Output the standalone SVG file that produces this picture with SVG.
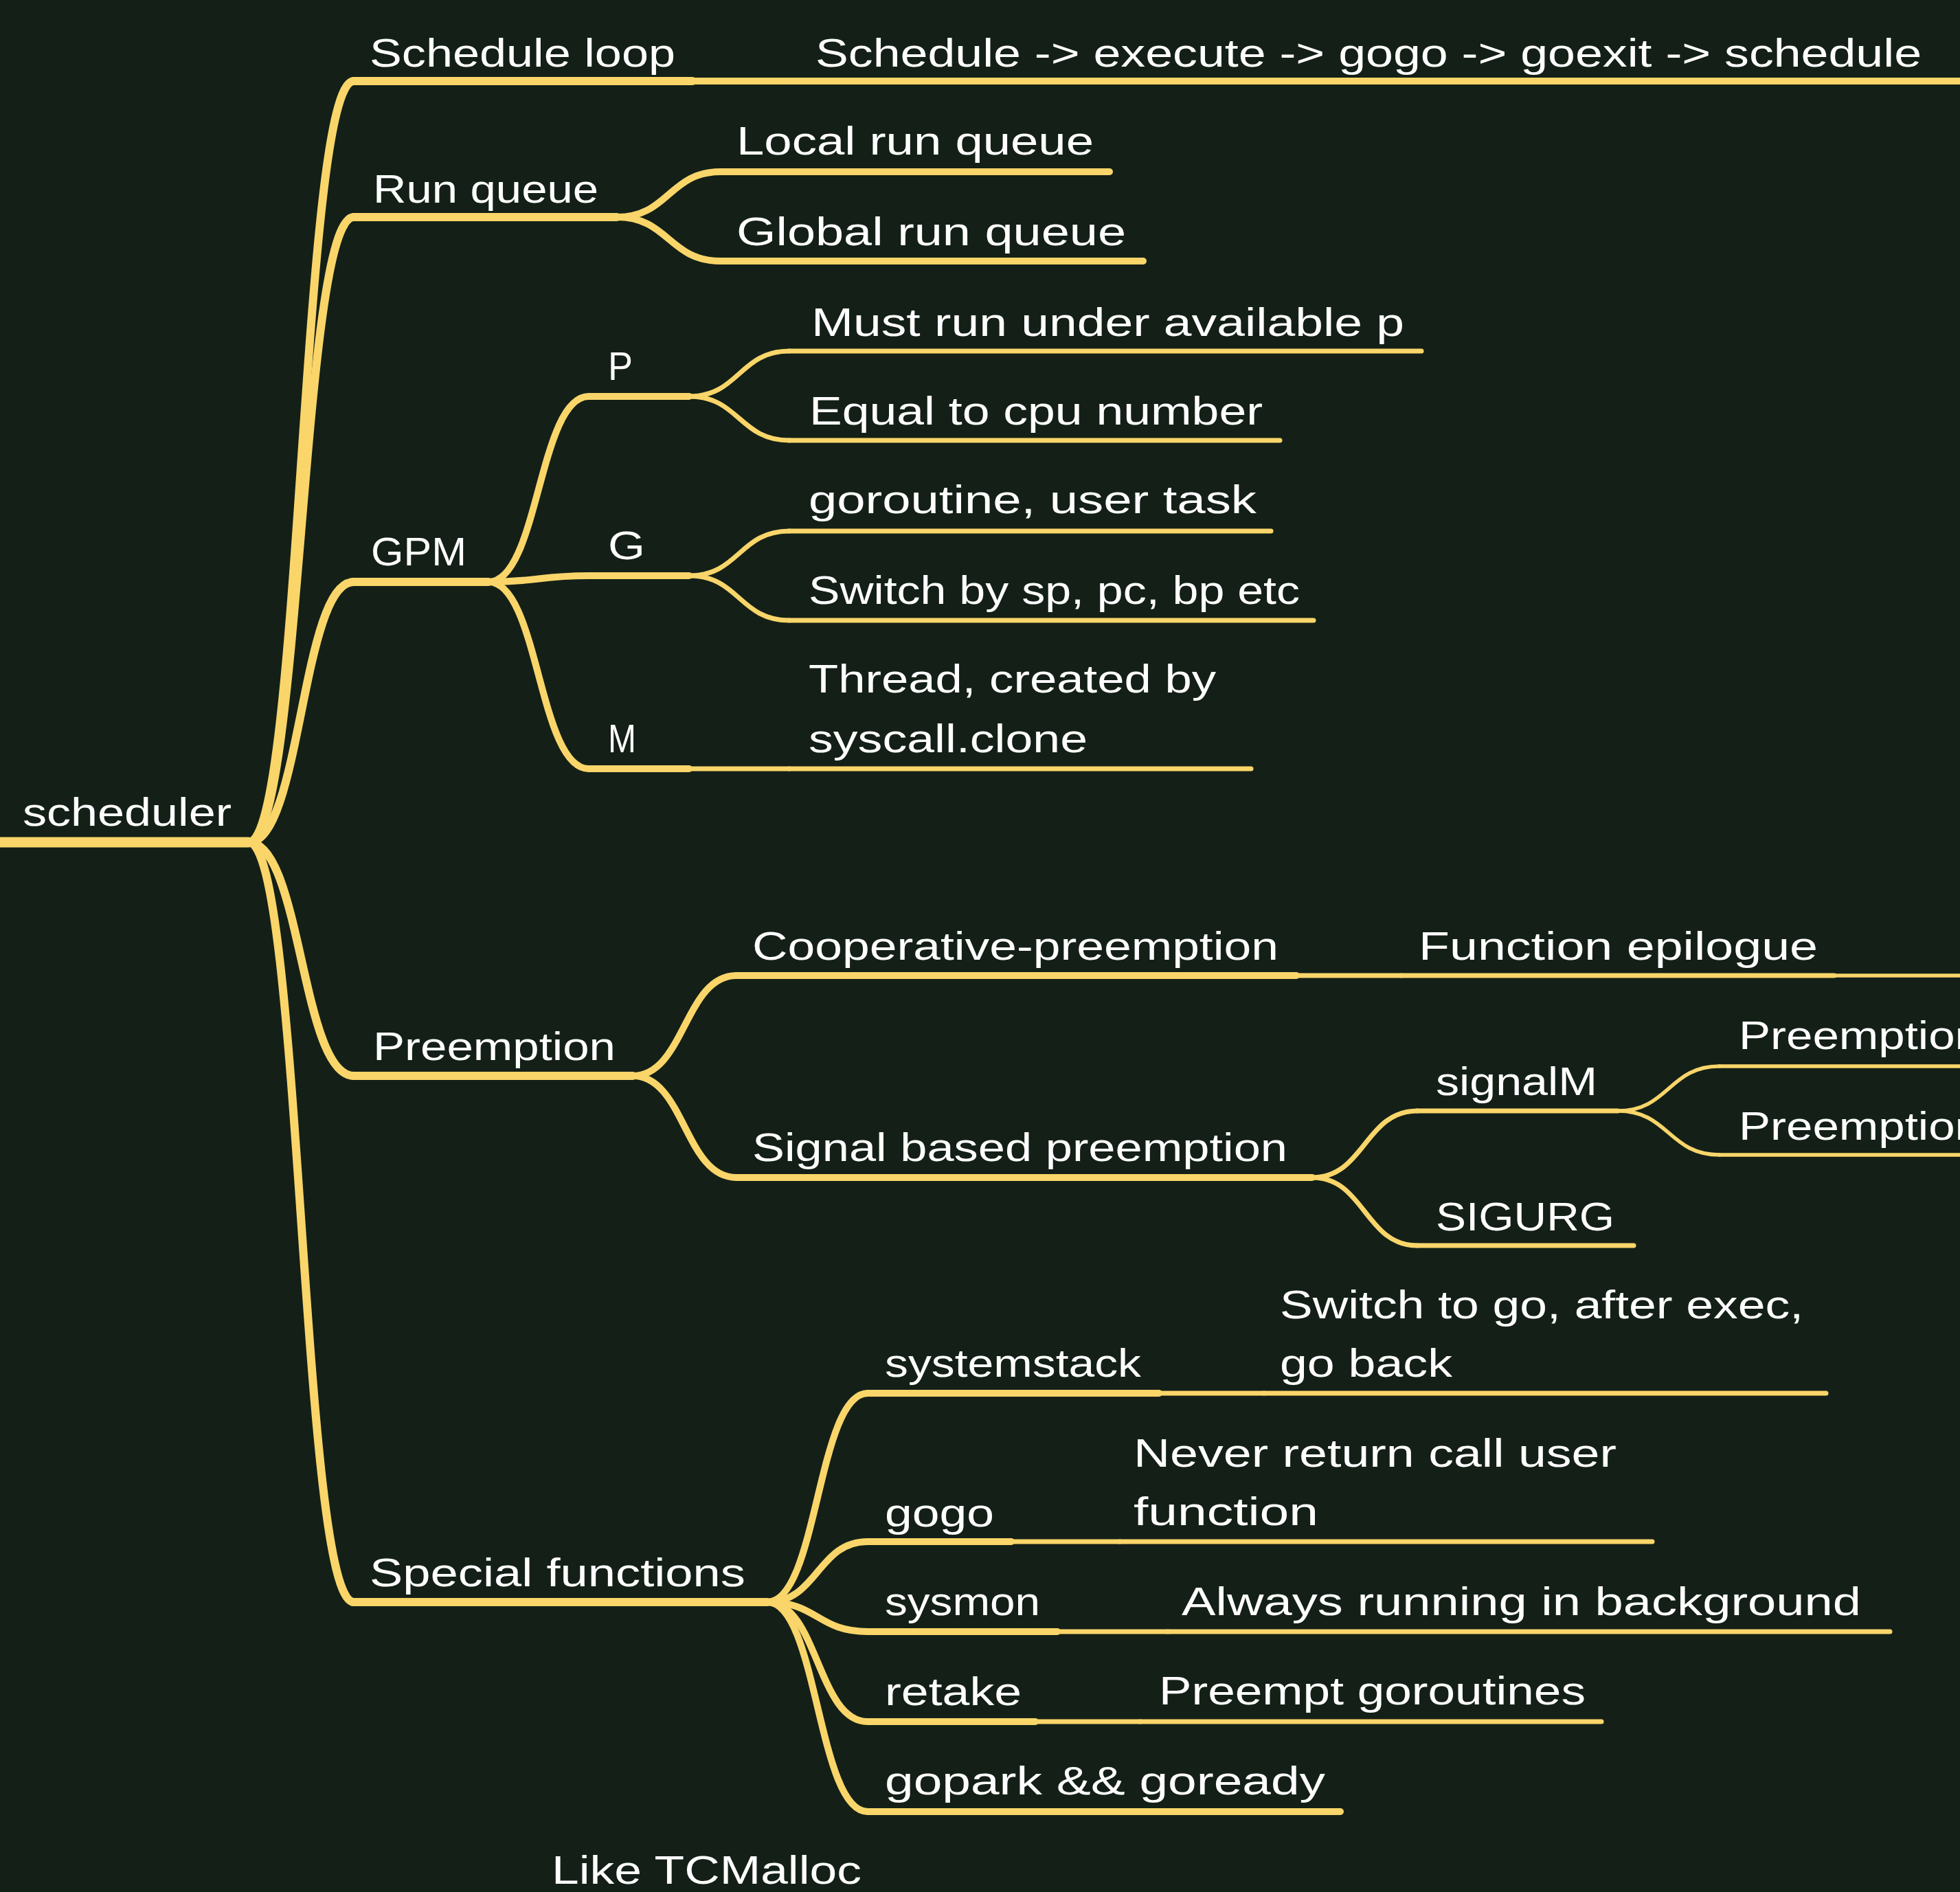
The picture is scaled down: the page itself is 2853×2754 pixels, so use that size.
<svg xmlns="http://www.w3.org/2000/svg" width="2853" height="2754" viewBox="0 0 2853 2754">
<style>
.t{font-family:"Liberation Sans",Arial,sans-serif;font-size:58px;fill:#ffffff}
.ln{fill:none;stroke:#f9d56a;stroke-linecap:round}
.w0{stroke-width:15}.w1{stroke-width:12}.w2{stroke-width:10}.w3{stroke-width:7}.w4{stroke-width:5.5}
</style>
<rect x="0" y="0" width="2853" height="2754" fill="#142017"/>
<g id="connectors" class="ln">
<path class="w1" d="M362,1226 C438.5,1226 438.5,118 515,118"/>
<path class="w1" d="M362,1226 C438.5,1226 438.5,316 515,316"/>
<path class="w1" d="M362,1226 C438.5,1226 438.5,847 515,847"/>
<path class="w1" d="M362,1226 C438.5,1226 438.5,1566 515,1566"/>
<path class="w1" d="M362,1226 C438.5,1226 438.5,2332 515,2332"/>
<path class="w2" d="M1008,118 L1160,118"/>
<path class="w2" d="M898,316 C973.5,316 973.5,250 1049,250"/>
<path class="w2" d="M898,316 C973.5,316 973.5,380 1049,380"/>
<path class="w2" d="M711,847 C784,847 784,577 857,577"/>
<path class="w2" d="M711,847 C784,847 784,838 857,838"/>
<path class="w2" d="M711,847 C784,847 784,1119 857,1119"/>
<path class="w3" d="M1003,577 C1076,577 1076,511 1149,511"/>
<path class="w3" d="M1003,577 C1076,577 1076,641 1149,641"/>
<path class="w3" d="M1003,838 C1076,838 1076,773 1149,773"/>
<path class="w3" d="M1003,838 C1076,838 1076,903 1149,903"/>
<path class="w3" d="M1003,1119 L1149,1119"/>
<path class="w2" d="M921,1566 C996.5,1566 996.5,1420 1072,1420"/>
<path class="w2" d="M921,1566 C996.5,1566 996.5,1714 1072,1714"/>
<path class="w3" d="M1887,1420 L2040,1420"/>
<path class="w4" d="M2670,1420 L2870,1420"/>
<path class="w3" d="M1910,1714 C1986.5,1714 1986.5,1617 2063,1617"/>
<path class="w3" d="M1910,1714 C1986.5,1714 1986.5,1813 2063,1813"/>
<path class="w4" d="M2355,1617 C2429,1617 2429,1552 2503,1552"/>
<path class="w4" d="M2355,1617 C2429,1617 2429,1681 2503,1681"/>
<path class="w2" d="M1117,2332 C1190,2332 1190,2028 1263,2028"/>
<path class="w2" d="M1117,2332 C1190,2332 1190,2244 1263,2244"/>
<path class="w2" d="M1117,2332 C1190,2332 1190,2375 1263,2375"/>
<path class="w2" d="M1117,2332 C1190,2332 1190,2506 1263,2506"/>
<path class="w2" d="M1117,2332 C1190,2332 1190,2637 1263,2637"/>
<path class="w3" d="M1687,2028 L1840,2028"/>
<path class="w3" d="M1472,2244 L1630,2244"/>
<path class="w3" d="M1539,2375 L1700,2375"/>
<path class="w3" d="M1507,2506 L1660,2506"/>
</g>
<g id="n-scheduler"><path class="ln w0" d="M-20,1226 L362,1226"/><text class="t" x="33" y="1202" textLength="304" lengthAdjust="spacingAndGlyphs">scheduler</text></g>
<g id="n-schedule-loop"><path class="ln w1" d="M515,118 L1008,118"/><text class="t" x="538" y="97" textLength="445" lengthAdjust="spacingAndGlyphs">Schedule loop</text></g>
<g id="n-schedule-chain"><path class="ln w2" d="M1160,118 L2870,118"/><text class="t" x="1187" y="97" textLength="1610" lengthAdjust="spacingAndGlyphs">Schedule -&gt; execute -&gt; gogo -&gt; goexit -&gt; schedule</text></g>
<g id="n-run-queue"><path class="ln w1" d="M515,316 L898,316"/><text class="t" x="543" y="295" textLength="328" lengthAdjust="spacingAndGlyphs">Run queue</text></g>
<g id="n-local-run-queue"><path class="ln w2" d="M1049,250 L1615,250"/><text class="t" x="1072" y="225" textLength="520" lengthAdjust="spacingAndGlyphs">Local run queue</text></g>
<g id="n-global-run-queue"><path class="ln w2" d="M1049,380 L1664,380"/><text class="t" x="1072" y="357" textLength="567" lengthAdjust="spacingAndGlyphs">Global run queue</text></g>
<g id="n-gpm"><path class="ln w1" d="M515,847 L711,847"/><text class="t" x="540" y="823" textLength="139" lengthAdjust="spacingAndGlyphs">GPM</text></g>
<g id="n-p"><path class="ln w2" d="M857,577 L1003,577"/><text class="t" x="885" y="553" textLength="36" lengthAdjust="spacingAndGlyphs">P</text></g>
<g id="n-must-run"><path class="ln w3" d="M1149,511 L2069,511"/><text class="t" x="1181" y="489" textLength="863" lengthAdjust="spacingAndGlyphs">Must run under available p</text></g>
<g id="n-equal-cpu"><path class="ln w3" d="M1149,641 L1863,641"/><text class="t" x="1178" y="618" textLength="660" lengthAdjust="spacingAndGlyphs">Equal to cpu number</text></g>
<g id="n-g"><path class="ln w2" d="M857,838 L1003,838"/><text class="t" x="885" y="814" textLength="54" lengthAdjust="spacingAndGlyphs">G</text></g>
<g id="n-goroutine"><path class="ln w3" d="M1149,773 L1850,773"/><text class="t" x="1177" y="747" textLength="652" lengthAdjust="spacingAndGlyphs">goroutine, user task</text></g>
<g id="n-switch-by"><path class="ln w3" d="M1149,903 L1912,903"/><text class="t" x="1177" y="879" textLength="715" lengthAdjust="spacingAndGlyphs">Switch by sp, pc, bp etc</text></g>
<g id="n-m"><path class="ln w2" d="M857,1119 L1003,1119"/><text class="t" x="885" y="1095" textLength="41" lengthAdjust="spacingAndGlyphs">M</text></g>
<g id="n-thread"><path class="ln w3" d="M1149,1119 L1821,1119"/><text class="t" x="1177" y="1008" textLength="593" lengthAdjust="spacingAndGlyphs">Thread, created by</text><text class="t" x="1177" y="1095" textLength="406" lengthAdjust="spacingAndGlyphs">syscall.clone</text></g>
<g id="n-preemption"><path class="ln w1" d="M515,1566 L921,1566"/><text class="t" x="543" y="1543" textLength="353" lengthAdjust="spacingAndGlyphs">Preemption</text></g>
<g id="n-cooperative"><path class="ln w2" d="M1072,1420 L1887,1420"/><text class="t" x="1095" y="1397" textLength="766" lengthAdjust="spacingAndGlyphs">Cooperative-preemption</text></g>
<g id="n-function-epilogue"><path class="ln w3" d="M2040,1420 L2670,1420"/><text class="t" x="2065" y="1397" textLength="581" lengthAdjust="spacingAndGlyphs">Function epilogue</text></g>
<g id="n-signal-based"><path class="ln w2" d="M1072,1714 L1910,1714"/><text class="t" x="1095" y="1690" textLength="779" lengthAdjust="spacingAndGlyphs">Signal based preemption</text></g>
<g id="n-signalm"><path class="ln w3" d="M2063,1617 L2355,1617"/><text class="t" x="2090" y="1594" textLength="235" lengthAdjust="spacingAndGlyphs">signalM</text></g>
<g id="n-preemption-a"><path class="ln w4" d="M2503,1552 L2870,1552"/><text class="t" x="2531" y="1527" textLength="353" lengthAdjust="spacingAndGlyphs">Preemption</text></g>
<g id="n-preemption-b"><path class="ln w4" d="M2503,1681 L2870,1681"/><text class="t" x="2531" y="1659" textLength="353" lengthAdjust="spacingAndGlyphs">Preemption</text></g>
<g id="n-sigurg"><path class="ln w3" d="M2063,1813 L2378,1813"/><text class="t" x="2090" y="1791" textLength="260" lengthAdjust="spacingAndGlyphs">SIGURG</text></g>
<g id="n-special-functions"><path class="ln w1" d="M515,2332 L1117,2332"/><text class="t" x="538" y="2309" textLength="547" lengthAdjust="spacingAndGlyphs">Special functions</text></g>
<g id="n-systemstack"><path class="ln w2" d="M1263,2028 L1687,2028"/><text class="t" x="1288" y="2004" textLength="373" lengthAdjust="spacingAndGlyphs">systemstack</text></g>
<g id="n-switch-to-g0"><path class="ln w3" d="M1840,2028 L2658,2028"/><text class="t" x="1863" y="1919" textLength="762" lengthAdjust="spacingAndGlyphs">Switch to go, after exec,</text><text class="t" x="1863" y="2004" textLength="251" lengthAdjust="spacingAndGlyphs">go back</text></g>
<g id="n-gogo"><path class="ln w2" d="M1263,2244 L1472,2244"/><text class="t" x="1288" y="2222" textLength="159" lengthAdjust="spacingAndGlyphs">gogo</text></g>
<g id="n-never-return"><path class="ln w3" d="M1630,2244 L2405,2244"/><text class="t" x="1650" y="2135" textLength="703" lengthAdjust="spacingAndGlyphs">Never return call user</text><text class="t" x="1650" y="2220" textLength="269" lengthAdjust="spacingAndGlyphs">function</text></g>
<g id="n-sysmon"><path class="ln w2" d="M1263,2375 L1539,2375"/><text class="t" x="1288" y="2351" textLength="226" lengthAdjust="spacingAndGlyphs">sysmon</text></g>
<g id="n-always-running"><path class="ln w3" d="M1700,2375 L2751,2375"/><text class="t" x="1720" y="2351" textLength="989" lengthAdjust="spacingAndGlyphs">Always running in background</text></g>
<g id="n-retake"><path class="ln w2" d="M1263,2506 L1507,2506"/><text class="t" x="1288" y="2482" textLength="199" lengthAdjust="spacingAndGlyphs">retake</text></g>
<g id="n-preempt-goroutines"><path class="ln w3" d="M1660,2506 L2331,2506"/><text class="t" x="1687" y="2481" textLength="621" lengthAdjust="spacingAndGlyphs">Preempt goroutines</text></g>
<g id="n-gopark"><path class="ln w2" d="M1263,2637 L1951,2637"/><text class="t" x="1288" y="2612" textLength="641" lengthAdjust="spacingAndGlyphs">gopark &amp;&amp; goready</text></g>
<g id="n-like-tcmalloc"><text class="t" x="803" y="2742" textLength="451" lengthAdjust="spacingAndGlyphs">Like TCMalloc</text></g>
</svg>
